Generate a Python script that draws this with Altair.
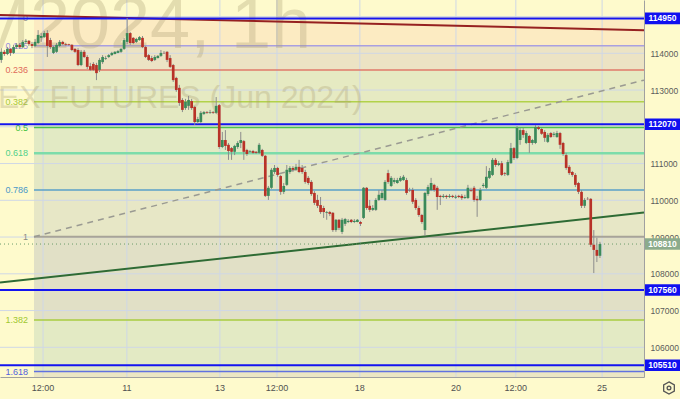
import altair as alt
import pandas as pd

# ---------------- data ----------------
OPEN = [
113820,114040,113980,114120,114010,114170,114230,114170,114310,114340,
114250,114200,114280,114420,114440,114550,114360,114010,114040,114200,
114310,114250,114250,114230,114120,114090,113680,114040,113900,113650,
113710,113680,113550,113760,113850,113900,113950,113980,114010,114040,
114120,114310,114550,114420,114310,114360,114420,114170,113950,113870,
113820,113870,113930,114010,114040,113870,113680,113330,113060,112730,
112510,112570,112700,112540,112130,112130,112350,112400,112380,112400,
112380,112590,111450,111640,111510,111420,111320,111450,111560,111610,
111370,111320,111340,111320,111290,111370,111210,110120,110340,110770,
110880,110660,110230,110420,110770,110880,110830,110910,110880,110770,
110610,110500,110200,110010,109870,109790,109660,109680,109660,109190,
109470,109140,109360,109410,109470,109410,109410,109410,109520,110340,
109850,109740,109740,110010,110060,110010,110740,110390,110500,110470,
110530,110550,110550,110280,110280,110010,109790,109600,109190,110170,
110280,110420,110340,110120,110090,110120,110090,110120,110070,110120,
110120,110060,110060,110280,110340,110040,110010,110390,110340,110610,
110690,111100,110960,111010,110740,110690,111010,111420,111150,111640,
111910,111560,111750,111560,111560,111990,111940,111860,111590,111830,
111780,111720,111830,111560,111230,110910,110770,110690,110470,110230,
109850,110040,110040,108790,108650,108490]

CLOSE = [
114040,113980,114120,114010,114170,114230,114170,114310,114340,114250,
114200,114310,114500,114470,114550,114200,114170,114170,114230,114310,
114250,114230,114230,114090,114040,113680,114040,113900,113630,113550,
113550,113460,113820,113900,113870,113950,114010,114040,114060,114120,
114360,114550,114280,114280,114390,114440,114170,113900,113820,113790,
113900,113930,114010,114000,113820,113630,113270,113000,112650,112460,
112680,112730,112510,112130,112210,112380,112400,112380,112400,112380,
112570,111450,111640,111480,111340,111320,111480,111560,111640,111320,
111260,111340,111290,111290,111510,111210,110120,110340,110830,110880,
110690,110230,110390,110830,110880,110830,110910,110770,110770,110500,
110470,110170,109930,109850,109680,109680,109680,109630,109190,109470,
109250,109470,109490,109440,109410,109440,109470,109360,110340,109790,
109740,109790,110010,110150,110200,110500,110500,110610,110550,110550,
110610,110640,110200,110270,109960,109790,109600,109410,110200,110360,
110470,110280,110090,110090,110120,110090,110120,110090,110100,110090,
110060,110090,110340,110260,110010,110000,110280,110420,110640,110800,
111100,110960,111010,110690,110720,111040,111420,111150,111970,111910,
111780,111830,111560,111640,111990,111940,111810,111700,111780,111720,
111810,111830,111510,111260,110880,110740,110690,110420,110230,109850,
110010,110030,108790,108650,108490,108810]

HIGH = [
114140,114090,114170,114140,114230,114280,114280,114360,114390,114360,
114310,114390,114630,114550,114610,114630,114420,114200,114280,114360,
114340,114280,114260,114250,114140,114140,114090,114090,113950,113740,
113760,113740,113870,113950,113930,113980,114040,114060,114090,114140,
114420,114960,114580,114440,114420,114470,114470,114200,113980,113930,
113950,113950,114090,114060,114060,113950,113710,113360,113140,112780,
112760,112840,112760,112570,112270,112430,112430,112430,112460,112430,
112810,112620,111860,111910,111560,111450,111510,111610,111860,111640,
111400,111370,111370,111340,111560,111400,111230,110390,110880,110960,
110910,110690,110470,110960,110930,110930,110990,111100,110960,110830,
110660,110550,110250,110150,110090,109850,109710,109710,109680,109490,
109490,109520,109520,109490,109490,109490,109490,109440,110360,110360,
110010,109870,110060,110280,110280,110550,110830,110660,110610,110610,
110660,110690,110610,110340,110340,110060,109850,109630,110230,110420,
110610,110450,110390,110150,110170,110150,110170,110150,110150,110150,
110170,110150,110420,110340,110390,110120,110340,110470,110930,110880,
111150,111150,111070,111070,110770,111100,111560,111450,112020,111970,
111970,111890,111780,111670,112050,112020,111970,111910,111830,111860,
111860,111890,111860,111590,111290,110960,110800,110740,110500,110280,
110060,110090,110060,109190,108980,108870]

LOW = [
113740,113930,113950,113930,113980,114120,114120,114140,114250,114200,
114140,114170,114250,114310,114420,113900,114120,113980,114010,114170,
114230,114200,114200,114060,114010,113650,113650,113870,113570,113520,
113520,113270,113490,113710,113820,113870,113930,113970,114000,114010,
114090,114250,114230,114250,114280,114340,114140,113870,113790,113760,
113790,113860,113900,113980,113760,113600,113220,112950,112570,112400,
112460,112460,112460,112050,112080,112100,112320,112350,112350,112350,
112350,111400,111420,111370,111100,111100,111230,111400,111420,111100,
111210,111290,111260,111260,111260,111180,110090,110010,110310,110720,
110640,110150,110170,110390,110720,110770,110800,110740,110720,110450,
110420,110120,109870,109790,109630,109520,109470,109570,109140,109140,
109190,109080,109300,109380,109380,109380,109400,109300,109490,109740,
109680,109710,109710,109980,110010,109980,110450,110360,110450,110450,
110500,110530,110150,110230,109900,109740,109550,109360,109030,110120,
110250,110230,109740,109870,110060,110040,110060,110060,110040,110060,
110010,110040,110040,110230,109960,109550,109980,110340,110310,110580,
110660,110910,110930,110660,110660,110660,110990,111100,111120,111510,
111700,111530,111290,111510,111530,111910,111780,111590,111560,111700,
111720,111700,111400,111210,110830,110690,110640,110360,110170,109790,
109790,110010,108730,108020,108320,108430]

TICK_POS = [13.6, 40.9, 71.2, 89.8, 116.8, 148.1, 167.6, 195.7]
TICK_LABELS = ["12:00", "11", "13", "12:00", "18", "20", "12:00", "25"]

PRICE_TICKS = [106000, 107000, 108000, 109000, 110000, 111000, 112000, 113000, 114000]
GRID_PRICES = PRICE_TICKS + [115000]

FIB_HIGH = 114950
FIB_LOW = 109010
FIB_START = 10.65
FIB_RATIOS = [0, 0.125, 0.236, 0.382, 0.5, 0.618, 0.786, 1, 1.382, 1.618]
FIB_LABELS = ["0", "0.125", "0.236", "0.382", "0.5", "0.618", "0.786", "1", "1.382", "1.618"]
FIB_COLORS = ["#b4aa8a", "#a99fe0", "#e07a6a", "#b2d24a", "#4cc44c", "#7cdcaa",
              "#5aa0c8", "#a8a498", "#a8cc40", "#6070e0"]
FIB_LABEL_COLORS = ["#8a8a8a", "#9a8fe0", "#e06a5a", "#a8c838", "#3cc03c", "#50d08a",
                    "#4a98c8", "#888888", "#a0c830", "#5060e0"]
FIB_WIDTHS = [1, 1.5, 1.5, 1.5, 1.5, 2.5, 1.5, 2, 1.5, 1.5]
BAND_COLORS = ["#fcebc2", "#ece3c4", "#e6eac2", "#e4e9c2", "#e2eac4", "#e4e8c4",
               "#e7e7c6", "#e1e0c6", "#e3eac4", "#ebe6c4"]

BLUE_LEVELS = [114950, 112070, 107560, 105510]
LAST_PRICE = 108810

RED_X = [-0.42, 209.35]
RED_Y = [115040, 114630]
GREEN_X = [-0.42, 209.35]
GREEN_Y = [107760, 109665]
DASH_X = [10.65, 209.35]
DASH_Y = [109010, 113270]

X_DOMAIN = [-0.42, 209.35]
Y_DOMAIN = [105192, 115450]

BG = "#fefacc"
FONT = "Liberation Sans, Arial, sans-serif"

# ---------------- helpers ----------------
XS = alt.Scale(domain=X_DOMAIN, nice=False, zero=False)
YS = alt.Scale(domain=Y_DOMAIN, nice=False, zero=False)
XAX = alt.Axis(labels=False, ticks=False, grid=False, domainColor="#a0a0a0", title=None)
YAX = alt.Axis(orient="right", values=PRICE_TICKS, format="d", ticks=False, grid=False,
               domainColor="#a0a0a0", labelColor="#5a5a5a", labelFont=FONT,
               labelFontSize=8.5, labelPadding=6, title=None)


def X(f):
    return alt.X(f, type="quantitative", scale=XS, axis=XAX)


def Y(f):
    return alt.Y(f, type="quantitative", scale=YS, axis=YAX)


fib_prices = [FIB_HIGH - r * (FIB_HIGH - FIB_LOW) for r in FIB_RATIOS]
bands = pd.DataFrame({
    "x": [FIB_START] * len(fib_prices),
    "top": fib_prices,
    "bot": fib_prices[1:] + [Y_DOMAIN[0]],
    "color": BAND_COLORS,
})
fib = pd.DataFrame({"x": [FIB_START] * len(fib_prices), "p": fib_prices,
                    "label": FIB_LABELS, "color": FIB_COLORS,
                    "lcolor": FIB_LABEL_COLORS, "w": FIB_WIDTHS})
candles = pd.DataFrame({"i": list(range(len(OPEN))), "o": OPEN, "h": HIGH, "l": LOW, "c": CLOSE})
hgrid = pd.DataFrame({"p": GRID_PRICES})
vgrid = pd.DataFrame({"x": TICK_POS, "label": TICK_LABELS})
blue = pd.DataFrame({"p": BLUE_LEVELS, "label": [str(v) for v in BLUE_LEVELS]})
last = pd.DataFrame({"p": [LAST_PRICE], "label": [str(LAST_PRICE)]})
red = pd.DataFrame({"x": RED_X, "p": RED_Y})
green = pd.DataFrame({"x": GREEN_X, "p": GREEN_Y})
dash = pd.DataFrame({"x": DASH_X, "p": DASH_Y})
one = pd.DataFrame({"a": [0]})

base_x = alt.Chart(candles).mark_rule(opacity=0).encode(x=X("i"), y=Y("h"))

band_layer = alt.Chart(bands).mark_rect().encode(
    x=X("x"), x2=alt.value(644), y=Y("top"), y2=alt.Y2("bot"),
    color=alt.Color("color:N", scale=None))

hgrid_layer = alt.Chart(hgrid).mark_rule(color="#cfd7e6", strokeWidth=1).encode(
    y=Y("p"), x=alt.value(0), x2=alt.value(644))
vgrid_layer = alt.Chart(vgrid).mark_rule(color="#cfd7e6", strokeWidth=1).encode(
    x=X("x"), y=alt.value(0), y2=alt.value(377))

fib_lines = alt.Chart(fib).mark_rule().encode(
    x=X("x"), x2=alt.value(644), y=Y("p"),
    color=alt.Color("color:N", scale=None),
    strokeWidth=alt.StrokeWidth("w:Q", scale=None))
fib_text = alt.Chart(fib).mark_text(align="right", baseline="middle", font=FONT,
                                    fontSize=9).encode(
    x=alt.value(28), y=Y("p"), text="label:N", color=alt.Color("lcolor:N", scale=None))

WM = dict(align="left", baseline="alphabetic", font=FONT, color="#a89c70", opacity=0.3)
wm1 = alt.Chart(one).mark_text(text="M2024,", fontSize=72, **WM).encode(
    x=alt.value(-30), y=alt.value(48))
wm1b = alt.Chart(one).mark_text(text="1h", fontSize=72, **WM).encode(
    x=alt.value(231), y=alt.value(48))
wm2 = alt.Chart(one).mark_text(text="EX FUTURES (Jun 2024)", fontSize=32, **WM).encode(
    x=alt.value(-2), y=alt.value(108))

red_line = alt.Chart(red).mark_line(color="#962020", strokeWidth=2, clip=True).encode(
    x=X("x"), y=Y("p"))
green_line = alt.Chart(green).mark_line(color="#2e6b34", strokeWidth=2, clip=True).encode(
    x=X("x"), y=Y("p"))
dash_line = alt.Chart(dash).mark_line(color="#9a9a92", strokeWidth=1.5, strokeDash=[6, 5],
                                      clip=True).encode(x=X("x"), y=Y("p"))

blue_lines = alt.Chart(blue).mark_rule(color="#1414f0", strokeWidth=2).encode(
    y=Y("p"), x=alt.value(0), x2=alt.value(644))
last_line = alt.Chart(last).mark_rule(color="#6c9c6c", strokeWidth=1, strokeDash=[1, 3]).encode(
    y=Y("p"), x=alt.value(0), x2=alt.value(644))

updown = alt.condition("datum.c >= datum.o", alt.value("#3b8a5a"), alt.value("#b83228"))
wicks = alt.Chart(candles).mark_rule(color="#8c8c8c", strokeWidth=1).encode(
    x=X("i"), y=Y("l"), y2=alt.Y2("h"))
bodies = alt.Chart(candles).mark_rule(strokeWidth=2.7, strokeCap="butt").encode(
    x=X("i"), y=Y("o"), y2=alt.Y2("c"), color=updown)

BOX = "M-1,-0.33H1V0.33H-1Z"
blue_box = alt.Chart(blue).mark_point(shape=BOX, size=1225, filled=True, opacity=1,
                                      color="#1010f0").encode(
    x=alt.value(662.5), y=Y("p"))
blue_txt = alt.Chart(blue).mark_text(color="white", font=FONT, fontSize=8.5,
                                     fontWeight="bold", baseline="middle").encode(
    x=alt.value(662.5), y=Y("p"), text="label:N")
last_box = alt.Chart(last).mark_point(shape=BOX, size=1225, filled=True, opacity=1,
                                      color="#8cab8c").encode(
    x=alt.value(662.5), y=Y("p"))
last_txt = alt.Chart(last).mark_text(color="white", font=FONT, fontSize=8.5,
                                     fontWeight="bold", baseline="middle").encode(
    x=alt.value(662.5), y=Y("p"), text="label:N")

xlabels = alt.Chart(vgrid).mark_text(font=FONT, fontSize=9, color="#505050",
                                     baseline="middle").encode(
    x=X("x"), y=alt.value(388), text="label:N")

HEX = "M0,-1L0.87,-0.5L0.87,0.5L0,1L-0.87,0.5L-0.87,-0.5Z"
gear1 = alt.Chart(one).mark_point(shape=HEX, size=150, filled=False, color="#555555",
                                  strokeWidth=1.3, opacity=1).encode(
    x=alt.value(669), y=alt.value(388))
gear2 = alt.Chart(one).mark_point(shape="circle", size=14, filled=False, color="#555555",
                                  strokeWidth=1.3, opacity=1).encode(
    x=alt.value(669), y=alt.value(388))

chart = alt.layer(
    base_x, band_layer, hgrid_layer, vgrid_layer, fib_lines, fib_text, wm1, wm1b, wm2,
    dash_line, red_line, green_line, blue_lines, last_line, wicks, bodies,
    blue_box, blue_txt, last_box, last_txt, xlabels, gear1, gear2,
).properties(
    width=644, height=377, background=BG,
    padding={"left": 0, "top": 0, "right": 36, "bottom": 22},
    autosize=alt.AutoSizeParams(type="none"),
).configure_view(fill=BG, stroke=None)

chart.save("out.html", embed_options={"renderer": "svg", "actions": False})
